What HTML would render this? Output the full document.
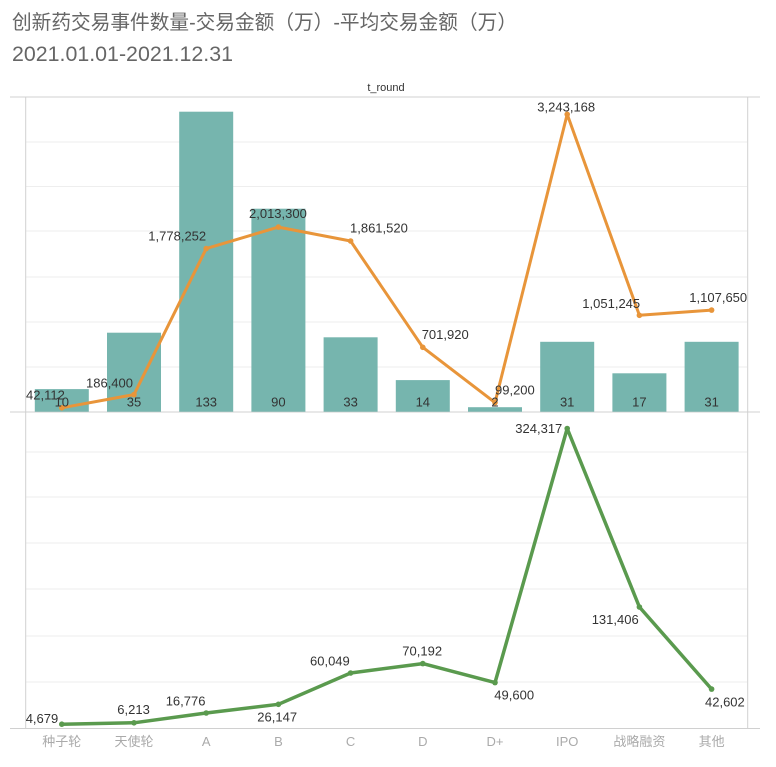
<!DOCTYPE html>
<html><head><meta charset="utf-8"><style>
html,body{margin:0;padding:0;background:#fff;}
svg{display:block;}
text{font-family:"Liberation Sans","Noto Sans CJK SC",sans-serif;}
</style></head><body>
<svg width="776" height="767" viewBox="0 0 776 767" xmlns="http://www.w3.org/2000/svg">
<rect width="776" height="767" fill="#fff"/>
<text x="12" y="29" font-size="20" fill="#666" textLength="505" lengthAdjust="spacingAndGlyphs">创新药交易事件数量-交易金额（万）-平均交易金额（万）</text>
<text x="12" y="61" font-size="21" fill="#666" textLength="221" lengthAdjust="spacingAndGlyphs">2021.01.01-2021.12.31</text>
<text x="386" y="91" font-size="11" fill="#333" text-anchor="middle">t_round</text>
<!-- gridlines -->
<g stroke="#eeeeee" stroke-width="1">
<line x1="26" y1="142" x2="747" y2="142"/><line x1="26" y1="186.5" x2="747" y2="186.5"/>
<line x1="26" y1="231" x2="747" y2="231"/><line x1="26" y1="277" x2="747" y2="277"/>
<line x1="26" y1="322" x2="747" y2="322"/><line x1="26" y1="367" x2="747" y2="367"/>
<line x1="26" y1="452" x2="747" y2="452"/><line x1="26" y1="497" x2="747" y2="497"/>
<line x1="26" y1="543" x2="747" y2="543"/><line x1="26" y1="589" x2="747" y2="589"/>
<line x1="26" y1="636" x2="747" y2="636"/><line x1="26" y1="682" x2="747" y2="682"/>
</g>
<g stroke="#d0d0d0" stroke-width="1">
<line x1="10" y1="97" x2="760" y2="97"/>
<line x1="10" y1="412" x2="760" y2="412"/>
<line x1="10" y1="728.5" x2="760" y2="728.5"/>
<line x1="25.7" y1="97" x2="25.7" y2="728.5"/>
<line x1="747.7" y1="97" x2="747.7" y2="728.5"/>
</g>
<!-- bars -->
<g fill="#76B5AE">
<rect x="34.8" y="389.1" width="54" height="22.6"/>
<rect x="107" y="332.7" width="54" height="79"/>
<rect x="179.2" y="111.7" width="54" height="300"/>
<rect x="251.4" y="208.7" width="54" height="203"/>
<rect x="323.6" y="337.3" width="54" height="74.4"/>
<rect x="395.8" y="380.1" width="54" height="31.6"/>
<rect x="468" y="407.2" width="54" height="4.5"/>
<rect x="540.2" y="341.8" width="54" height="69.9"/>
<rect x="612.4" y="373.3" width="54" height="38.4"/>
<rect x="684.6" y="341.8" width="54" height="69.9"/>
</g>
<!-- orange line -->
<polyline fill="none" stroke="#E8953A" stroke-width="3" stroke-linejoin="round" points="61.8,407.8 134,394.6 206.2,248.6 278.4,227.1 350.6,241 422.8,347.3 495,402.6 567.2,114.3 639.4,315.3 711.6,310.1"/>
<g fill="#E8953A">
<circle cx="61.8" cy="407.8" r="2.8"/><circle cx="134" cy="394.6" r="2.8"/><circle cx="206.2" cy="248.6" r="2.8"/><circle cx="278.4" cy="227.1" r="2.8"/><circle cx="350.6" cy="241" r="2.8"/><circle cx="422.8" cy="347.3" r="2.8"/><circle cx="495" cy="402.6" r="2.8"/><circle cx="567.2" cy="114.3" r="2.8"/><circle cx="639.4" cy="315.3" r="2.8"/><circle cx="711.6" cy="310.1" r="2.8"/>
</g>
<!-- green line -->
<polyline fill="none" stroke="#5A9A4E" stroke-width="3.5" stroke-linejoin="round" points="61.8,724.2 134,722.8 206.2,713 278.4,704.3 350.6,673 422.8,663.6 495,682.6 567.2,428.5 639.4,607 711.6,689.1"/>
<g fill="#5A9A4E">
<circle cx="61.8" cy="724.2" r="2.8"/><circle cx="134" cy="722.8" r="2.8"/><circle cx="206.2" cy="713" r="2.8"/><circle cx="278.4" cy="704.3" r="2.8"/><circle cx="350.6" cy="673" r="2.8"/><circle cx="422.8" cy="663.6" r="2.8"/><circle cx="495" cy="682.6" r="2.8"/><circle cx="567.2" cy="428.5" r="2.8"/><circle cx="639.4" cy="607" r="2.8"/><circle cx="711.6" cy="689.1" r="2.8"/>
</g>
<!-- bar labels -->
<g font-size="13" fill="#333" text-anchor="middle">
<text x="61.8" y="406.4">10</text><text x="134" y="406.4">35</text><text x="206.2" y="406.4">133</text><text x="278.4" y="406.4">90</text><text x="350.6" y="406.4">33</text><text x="422.8" y="406.4">14</text><text x="495" y="406.4">2</text><text x="567.2" y="406.4">31</text><text x="639.4" y="406.4">17</text><text x="711.6" y="406.4">31</text>
</g>
<!-- orange labels -->
<g font-size="13" fill="#333">
<text x="26" y="399.7">42,112</text>
<text x="86" y="387.4">186,400</text>
<text x="148.3" y="240.4">1,778,252</text>
<text x="249" y="218">2,013,300</text>
<text x="350" y="232.4">1,861,520</text>
<text x="421.7" y="339">701,920</text>
<text x="495" y="394.7">99,200</text>
<text x="537.3" y="111.4">3,243,168</text>
<text x="582.3" y="308">1,051,245</text>
<text x="689.3" y="302">1,107,650</text>
</g>
<!-- green labels -->
<g font-size="13" fill="#333">
<text x="25.7" y="723">4,679</text>
<text x="117.3" y="714">6,213</text>
<text x="165.7" y="705.4">16,776</text>
<text x="257.3" y="721.4">26,147</text>
<text x="310" y="665.4">60,049</text>
<text x="402.3" y="655.4">70,192</text>
<text x="494.3" y="699.7">49,600</text>
<text x="562.3" y="433" text-anchor="end">324,317</text>
<text x="591.7" y="624">131,406</text>
<text x="705" y="706.4">42,602</text>
</g>
<!-- axis labels -->
<g font-size="13" fill="#aaa" text-anchor="middle">
<text x="61.8" y="746">种子轮</text><text x="134" y="746">天使轮</text><text x="206.2" y="746">A</text><text x="278.4" y="746">B</text><text x="350.6" y="746">C</text><text x="422.8" y="746">D</text><text x="495" y="746">D+</text><text x="567.2" y="746">IPO</text><text x="639.4" y="746">战略融资</text><text x="711.6" y="746">其他</text>
</g>
</svg>
</body></html>
